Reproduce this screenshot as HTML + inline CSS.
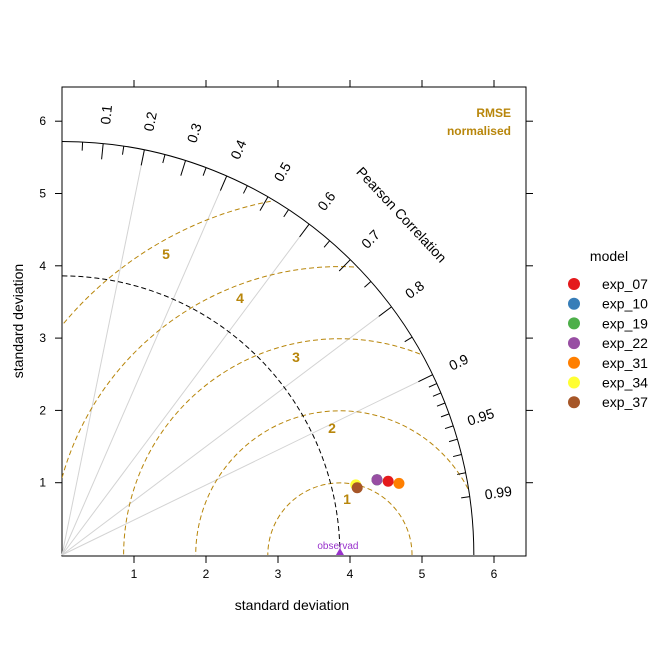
<!DOCTYPE html>
<html><head><meta charset="utf-8"><style>
html,body{margin:0;background:#fff;width:672px;height:671px;overflow:hidden;}
svg{display:block;font-family:"Liberation Sans",Arial,sans-serif;}
</style></head><body>
<svg id="c" width="672" height="671" xmlns="http://www.w3.org/2000/svg"></svg>
<script>
const models=["exp_07","exp_10","exp_19","exp_22","exp_31","exp_34","exp_37"];
const colors=["#e41a1c","#377eb8","#4daf4a","#984ea3","#ff7f00","#ffff33","#a65628"];
const sdX=[4.53,4.375,4.375,4.375,4.68,4.08,4.1];
const sdY=[1.02,1.04,1.04,1.04,0.99,0.97,0.93];
const obsSd=3.86;
const maxSd=5.72;
const axisTicks=[1,2,3,4,5,6];
const corrLabels=[0.1,0.2,0.3,0.4,0.5,0.6,0.7,0.8,0.9,0.95,0.99];
const rmseLevels=[1,2,3,4,5];
const gridCorr=[0.2,0.4,0.6,0.8,0.9];

const svg=document.getElementById('c');
const NS="http://www.w3.org/2000/svg";
const X=v=>62+v*72;
const Y=v=>555-v*72.3;
function el(t,a,p){const e=document.createElementNS(NS,t);for(const k in a)e.setAttribute(k,a[k]);(p||svg).appendChild(e);return e;}

const defs=el('defs',{});
const cp=el('clipPath',{id:'arcclip'},defs);
let d=`M${X(0)} ${Y(0)} L${X(maxSd)} ${Y(0)} A${maxSd*72} ${maxSd*72.3} 0 0 0 ${X(0)} ${Y(maxSd)} Z`;
el('path',{d:d},cp);

let f=el('rect',{x:62,y:87,width:464,height:469,fill:'none',stroke:'#000','stroke-width':1});

axisTicks.forEach(t=>{
  el('line',{x1:X(t),x2:X(t),y1:556,y2:563,stroke:'#000'});
  el('line',{x1:X(t),x2:X(t),y1:87,y2:80,stroke:'#000'});
  el('line',{x1:62,x2:55,y1:Y(t),y2:Y(t),stroke:'#000'});
  el('line',{x1:526,x2:533,y1:Y(t),y2:Y(t),stroke:'#000'});
  let a=el('text',{x:X(t),y:578,'font-size':12,'text-anchor':'middle'});a.textContent=t;
  
  let b=el('text',{x:46,y:Y(t)+4,'font-size':12,'text-anchor':'end'});b.textContent=t;
  
});
let xl=el('text',{x:292,y:610,'font-size':14,'text-anchor':'middle'});xl.textContent='standard deviation';

let yl=el('text',{x:0,y:0,'font-size':14,'text-anchor':'middle',transform:'translate(23,321) rotate(-90)'});yl.textContent='standard deviation';


gridCorr.forEach(c=>{
  const s=Math.sqrt(1-c*c);
  let l=el('line',{x1:X(0),y1:Y(0),x2:X(maxSd*c),y2:Y(maxSd*s),stroke:'#d3d3d3','stroke-width':1});
  
});

const g=el('g',{'clip-path':'url(#arcclip)'});
rmseLevels.forEach(r=>{
  let c=el('circle',{cx:X(obsSd),cy:Y(0),r:r*72.1,fill:'none',stroke:'#b8860b','stroke-width':1,'stroke-dasharray':'5,3'},g);
  
});
const rmseLab=[[347,504],[332,433],[296,362],[240,303],[166,259]];
rmseLevels.forEach((r,i)=>{
  let t=el('text',{x:rmseLab[i][0],y:rmseLab[i][1],'font-size':14,'font-weight':'bold',fill:'#b8860b','text-anchor':'middle'});t.textContent=r;
  
});

let oa=el('path',{d:`M${X(obsSd)} ${Y(0)} A${obsSd*72} ${obsSd*72.3} 0 0 0 ${X(0)} ${Y(obsSd)}`,fill:'none',stroke:'#000','stroke-dasharray':'5,3'});

let ar=el('path',{d:`M${X(maxSd)} ${Y(0)} A${maxSd*72} ${maxSd*72.3} 0 0 0 ${X(0)} ${Y(maxSd)}`,fill:'none',stroke:'#000'});

const minor=[0.05,0.15,0.25,0.35,0.45,0.55,0.65,0.75,0.85,0.91,0.92,0.93,0.94,0.95,0.96,0.97,0.98,0.99];
const major=[0.1,0.2,0.3,0.4,0.5,0.6,0.7,0.8,0.9];
minor.concat(major).forEach((c,i)=>{
  const len=i<minor.length?0.12:0.22;
  const s=Math.sqrt(1-c*c);
  el('line',{x1:X(maxSd*c),y1:Y(maxSd*s),x2:X((maxSd-len)*c),y2:Y((maxSd-len)*s),stroke:'#000'});
});
corrLabels.forEach(c=>{
  const s=Math.sqrt(1-c*c);const deg=Math.acos(c)*180/Math.PI;
  const px=X(6.12*c),py=Y(6.12*s);
  let t=el('text',{x:0,y:0,'font-size':14,'text-anchor':'middle',transform:`translate(${px},${py}) rotate(${-deg})`,dy:5});t.textContent=c;
  
});
let pc=el('text',{x:0,y:0,'font-size':14,'text-anchor':'middle',transform:'translate(398,218) rotate(47)'});pc.textContent='Pearson Correlation';


let r1=el('text',{x:511,y:117,'font-size':12,'font-weight':'bold',fill:'#b8860b','text-anchor':'end'});r1.textContent='RMSE';

let r2=el('text',{x:511,y:135,'font-size':12,'font-weight':'bold',fill:'#b8860b','text-anchor':'end'});r2.textContent='normalised';


let ob=el('path',{d:`M${X(obsSd)-4} ${Y(0)} L${X(obsSd)+4} ${Y(0)} L${X(obsSd)} ${Y(0)-7} Z`,fill:'#9932cc'});

let ot=el('text',{x:X(obsSd)-2,y:Y(0)-6,'font-size':10,fill:'#9932cc','text-anchor':'middle'});ot.textContent='observad';


models.forEach((m,i)=>{
  let p=el('circle',{cx:X(sdX[i]),cy:Y(sdY[i]),r:5.5,fill:colors[i]});
  
});

let lt=el('text',{x:609,y:261,'font-size':14,'text-anchor':'middle'});lt.textContent='model';

models.forEach((m,i)=>{
  const y=284+i*19.7;
  let c=el('circle',{cx:574,cy:y,r:6,fill:colors[i]});
  
  let t=el('text',{x:602,y:y+5,'font-size':14});t.textContent=m;
  
});
</script>
</body></html>
